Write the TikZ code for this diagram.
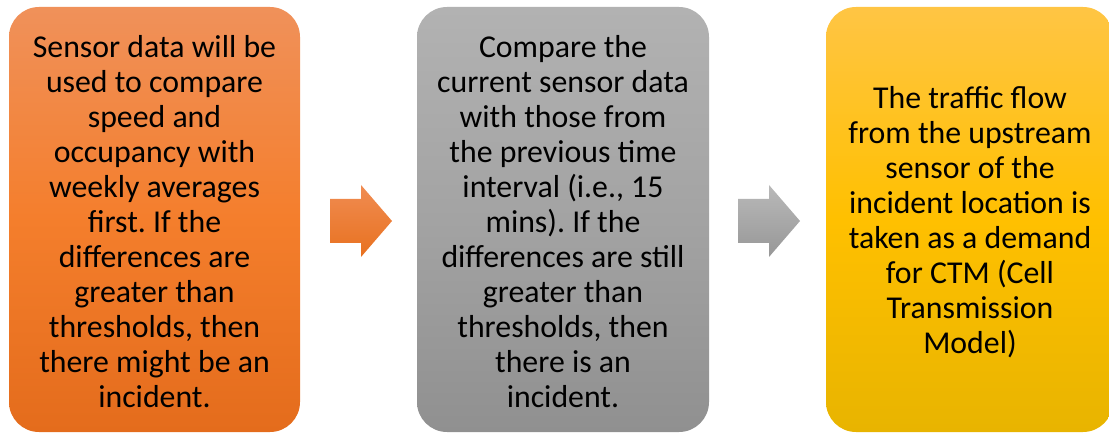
\documentclass[tikz,border=0pt]{standalone}
\usepackage{fontspec}
\setmainfont{Carlito}
\frenchspacing
\begin{document}
\begin{tikzpicture}[x=1pt,y=1pt,
  box/.style={rounded corners=30pt, inner sep=0pt, align=center, text=black,
    font=\fontsize{31.8}{35}\selectfont},
  orangefill/.style={top color=orangeT, bottom color=orangeB, middle color=orangeM},
  grayfill/.style={top color=grayT, bottom color=grayB, middle color=grayM},
  yellowfill/.style={top color=yellowT, bottom color=yellowB, middle color=yellowM},
]
\definecolor{orangeT}{HTML}{F0915A}
\definecolor{orangeM}{HTML}{F47E2C}
\definecolor{orangeB}{HTML}{E46C1C}
\definecolor{grayT}{HTML}{B2B2B2}
\definecolor{grayM}{HTML}{A3A3A3}
\definecolor{grayB}{HTML}{909090}
\definecolor{yellowT}{HTML}{FFC544}
\definecolor{yellowM}{HTML}{FFC000}
\definecolor{yellowB}{HTML}{E8B400}
\definecolor{arrOT}{HTML}{F08C52}
\definecolor{arrOB}{HTML}{E8711F}
\definecolor{arrGT}{HTML}{B9B9B9}
\definecolor{arrGB}{HTML}{979797}
\useasboundingbox (0,0) rectangle (1109,434);
\clip (0,0) rectangle (1109,434);
% boxes
\path[box, orangefill] (9,2) rectangle (300,427);
\path[box, grayfill] (417,2) rectangle (709,427);
\path[box, yellowfill] (826,2) rectangle (1113,427);
\node[box] (b1) at (154.5,212) {Sensor data will be\\used to compare\\speed and\\occupancy with\\weekly averages\\first. If the\\differences are\\greater than\\thresholds, then\\there might be an\\incident.};
\node[box] (b2) at (563,212) {Compare the\\current sensor data\\with those from\\the previous time\\interval (i.e., 15\\mins). If the\\differences are still\\greater than\\thresholds, then\\there is an\\incident.};
\node[box] (b3) at (970,212) {The traffic flow\\from the upstream\\sensor of the\\incident location is\\taken as a demand\\for CTM (Cell\\Transmission\\Model)};
% block arrows
\path[top color=arrOT, bottom color=arrOB]
  (330,235) -- (361,235) -- (361,249) -- (392,213) -- (361,177) -- (361,191) -- (330,191) -- cycle;
\path[top color=arrGT, bottom color=arrGB]
  (738,235) -- (769,235) -- (769,249) -- (800,213) -- (769,177) -- (769,191) -- (738,191) -- cycle;
\end{tikzpicture}
\end{document}
